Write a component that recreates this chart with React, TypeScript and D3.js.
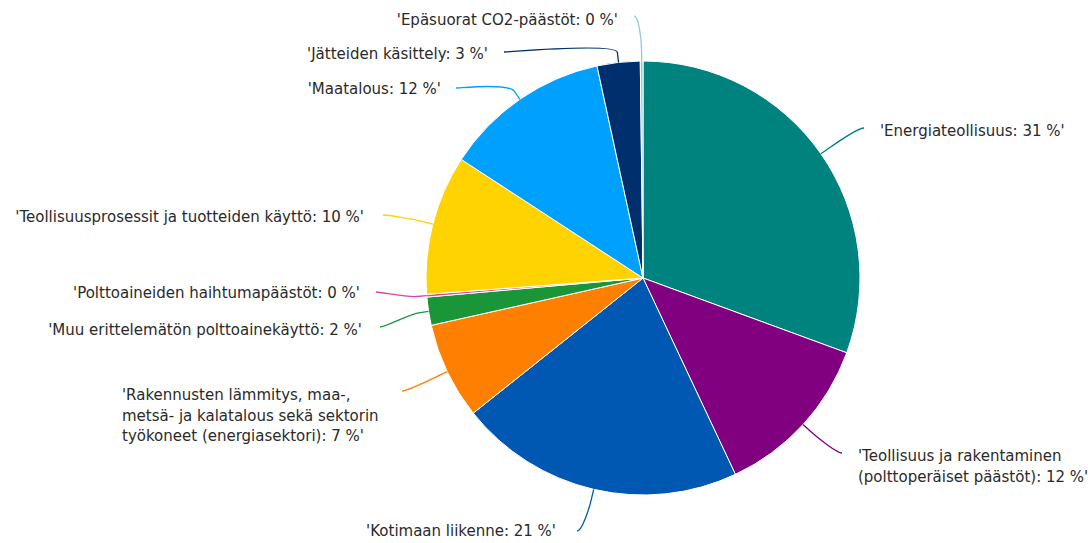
import React from 'react';
import * as d3 from 'd3';

// sector names and shares (%) of emissions, clockwise from 12 o'clock
const names = [
  'Energiateollisuus',
  'Teollisuus ja rakentaminen (polttoperäiset päästöt)',
  'Kotimaan liikenne',
  'Rakennusten lämmitys, maa-, metsä- ja kalatalous sekä sektorin työkoneet (energiasektori)',
  'Muu erittelemätön polttoainekäyttö',
  'Polttoaineiden haihtumapäästöt',
  'Teollisuusprosessit ja tuotteiden käyttö',
  'Maatalous',
  'Jätteiden käsittely',
  'Epäsuorat CO2-päästöt',
];
const values = [30.6, 12.4, 21.3, 7.2, 2.1, 0.2, 10.4, 12.4, 3.2, 0.2];
const colors = [
  '#00827f', '#800080', '#0058b2', '#ff8000', '#1a9639',
  '#d845a8', '#ffd300', '#00a0ff', '#002f6e', '#8ccfcc',
];

// where each label sits: text anchor point, alignment, wrap width, connector end
const labelLayout = [
  { x: 880, y: 131, anchor: 'start', wrap: 0, lx: 864, ly: 128 },
  { x: 858, y: 456, anchor: 'start', wrap: 240, lx: 842, ly: 453 },
  { x: 556, y: 531, anchor: 'end', wrap: 0, lx: 577, ly: 531 },
  { x: 122, y: 395, anchor: 'start', wrap: 275, lx: 402, ly: 391 },
  { x: 362, y: 330, anchor: 'end', wrap: 0, lx: 380, ly: 327 },
  { x: 360, y: 293, anchor: 'end', wrap: 0, lx: 376, ly: 292 },
  { x: 364, y: 217, anchor: 'end', wrap: 0, lx: 383, ly: 215 },
  { x: 441, y: 89, anchor: 'end', wrap: 0, lx: 456, ly: 88 },
  { x: 488, y: 54, anchor: 'end', wrap: 0, lx: 504, ly: 52 },
  { x: 618, y: 20, anchor: 'end', wrap: 0, lx: 634, ly: 16 },
];

const width = 1088;
const height = 543;
const cx = 643;
const cy = 278;
const radius = 217;
const fontSize = 15;
const fontFamily = '"DejaVu Sans", Verdana, sans-serif';
const lineHeight = 20.5;

let ctx: CanvasRenderingContext2D | null = null;
function textWidth(s: string) {
  if (!ctx) {
    ctx = document.createElement('canvas').getContext('2d');
    if (ctx) ctx.font = `${fontSize}px ${fontFamily}`;
  }
  return ctx ? ctx.measureText(s).width : s.length * fontSize * 0.6;
}

function wrap(text: string, maxWidth: number) {
  if (!maxWidth) return [text];
  const words = text.split(' ');
  const lines: string[] = [];
  let line = '';
  words.forEach((w) => {
    const test = line ? line + ' ' + w : w;
    if (line && textWidth(test) > maxWidth) {
      lines.push(line);
      line = w;
    } else {
      line = test;
    }
  });
  if (line) lines.push(line);
  return lines;
}

const pointAt = (angle: number, r: number) => [cx + r * Math.sin(angle), cy - r * Math.cos(angle)];

export default function App() {
  const pie = d3.pie<number>().sort(null).value((d) => d);
  const arcs = pie(values);
  const arcGen = d3.arc<d3.PieArcDatum<number>>().innerRadius(0).outerRadius(radius);

  return (
    <div style={{ position: 'absolute', left: 0, top: 0 }}>
      <svg width={width} height={height} style={{ display: 'block', background: '#fff' }}>
        <g transform={`translate(${cx},${cy})`}>
          {arcs.map((a, i) => (
            <path key={i} d={arcGen(a) || ''} fill={colors[i]} stroke="#fff" strokeWidth={1} strokeLinejoin="round" />
          ))}
        </g>
        {arcs.map((a, i) => {
          const L = labelLayout[i];
          const mid = (a.startAngle + a.endAngle) / 2;
          const [tx, ty] = pointAt(mid, radius);
          const [bx, by] = pointAt(mid, radius + 10);
          const c1x = L.lx + (L.lx > cx ? -5 : 5);
          const d = `M${L.lx},${L.ly} C${c1x},${L.ly} ${2 * bx - tx},${2 * by - ty} ${bx},${by} L${tx},${ty}`;
          return <path key={i} d={d} fill="none" stroke={colors[i]} strokeWidth={1.3} />;
        })}
        {arcs.map((a, i) => {
          const L = labelLayout[i];
          const label = `'${names[i]}: ${Math.round(values[i])} %'`;
          const lines = wrap(label, L.wrap);
          return (
            <text
              key={i}
              x={L.x}
              y={L.y}
              textAnchor={L.anchor}
              fontFamily={fontFamily}
              fontSize={fontSize}
              fill="#2a2a2a"
            >
              {lines.map((ln, j) => (
                <tspan key={j} x={L.x} y={L.y + j * lineHeight} dy="0.35em">
                  {ln}
                </tspan>
              ))}
            </text>
          );
        })}
      </svg>
    </div>
  );
}
